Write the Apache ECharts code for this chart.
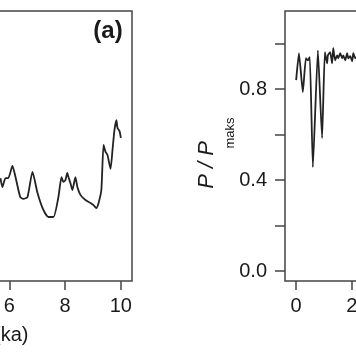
<!DOCTYPE html>
<html><head><meta charset="utf-8">
<script src="https://cdn.jsdelivr.net/npm/echarts@6/dist/echarts.min.js"></script>
<style>html,body{margin:0;padding:0;background:#fff}#c{width:356px;height:364px}</style>
</head><body><div id="c"></div>
<script>
// Panel (a): age (ka) and value (arbitrary units)
var ageA = [5.68,5.75,5.86,5.96,6.11,6.22,6.39,6.50,6.65,6.83,7.01,7.22,7.40,7.58,7.76,7.87,7.94,8.01,8.08,8.12,8.19,8.26,8.37,8.44,8.55,8.73,8.91,9.02,9.12,9.20,9.30,9.38,9.45,9.52,9.63,9.70,9.77,9.84,9.88,9.95,10.0];
var valA = [38.1,34.8,38.1,38.1,42.6,38.5,31.1,30.4,31.1,40.4,32.6,26.3,23.7,23.7,31.1,38.5,36.7,37.4,40.0,38.5,36.3,33.7,38.5,34.8,31.9,30.0,28.9,28.1,27.0,28.9,33.7,50.4,47.8,46.7,41.5,48.5,55.9,59.6,56.7,55.6,53.0];
// Panel (b): age (ka) and P/Pmaks
var ageB = [0.0,0.10,0.24,0.35,0.42,0.49,0.60,0.78,0.93,1.03,1.11,1.14,1.22,1.29,1.33,1.40,1.47,1.51,1.58,1.65,1.69,1.76,1.83,1.87,1.94,2.01,2.05,2.12,2.20];
var valB = [0.84,0.958,0.787,0.936,0.927,0.941,0.457,0.971,0.585,0.963,0.914,0.949,0.963,0.914,0.980,0.927,0.949,0.936,0.958,0.936,0.949,0.927,0.958,0.936,0.945,0.923,0.958,0.936,0.945];
// Tick values
var xTicks = [0,2,4,6,8,10];
var yTicksB = [0,0.2,0.4,0.6,0.8,1.0];
var yLabelsB = [0,0.4,0.8];
var xName = 'Waktu (ka)';
var panelLabel = '(a)';

var FONT = '"Liberation Sans", Arial, sans-serif';
var TXT = '#1a1a1a';
var BOX = '#444';

function pairs(xs, ys){ return xs.map(function(x,i){ return [x, ys[i]]; }); }

var chart = echarts.init(document.getElementById('c'), null, {renderer:'canvas'});
chart.setOption({
  animation:false,
  backgroundColor:'#fff',
  grid:[
    {left:-169, width:301, top:11, height:270, show:true, borderColor:BOX, borderWidth:1.5, backgroundColor:'transparent', containLabel:false, outerBoundsMode:'none'},
    {left:285, width:301, top:11, height:270, show:true, borderColor:BOX, borderWidth:1.5, backgroundColor:'transparent', containLabel:false, outerBoundsMode:'none'}
  ],
  xAxis:[
    {gridIndex:0, type:'value', min:-0.4, max:10.4, position:'bottom',
     axisLine:{show:false, onZero:false}, splitLine:{show:false},
     axisTick:{show:true, inside:false, length:9, lineStyle:{color:BOX, width:1.5}, customValues:xTicks},
     axisLabel:{show:true, margin:15, fontFamily:FONT, fontSize:20, color:TXT, customValues:xTicks}},
    {gridIndex:1, type:'value', min:-0.4, max:10.4, position:'bottom',
     axisLine:{show:false, onZero:false}, splitLine:{show:false},
     axisTick:{show:true, inside:false, length:9, lineStyle:{color:BOX, width:1.5}, customValues:xTicks},
     axisLabel:{show:true, margin:15, fontFamily:FONT, fontSize:20, color:TXT, customValues:xTicks}}
  ],
  yAxis:[
    {gridIndex:0, type:'value', min:0, max:100, show:false, axisLine:{onZero:false}},
    {gridIndex:1, type:'value', min:-0.044, max:1.144, position:'left',
     axisLine:{show:false, onZero:false}, splitLine:{show:false},
     axisTick:{show:true, inside:false, length:10, lineStyle:{color:BOX, width:1.5}, customValues:yTicksB},
     axisLabel:{show:true, margin:18, fontFamily:FONT, fontSize:20, color:TXT, customValues:yLabelsB,
       formatter:function(v){ return Number(v).toFixed(1); }}}
  ],
  series:[
    {type:'line', xAxisIndex:0, yAxisIndex:0, data:pairs(ageA, valA), showSymbol:false, smooth:0.2,
     lineStyle:{color:'#222', width:1.8}},
    {type:'line', xAxisIndex:1, yAxisIndex:1, data:pairs(ageB, valB), showSymbol:false, smooth:0.15,
     lineStyle:{color:'#222', width:1.8}}
  ],
  graphic:[
    {type:'text', x:108, y:31, style:{text:panelLabel, fontFamily:FONT, fontSize:24, fontWeight:'bold', fill:TXT, align:'center', verticalAlign:'middle'}},
    {type:'text', x:28.5, y:335, style:{text:xName, fontFamily:FONT, fontSize:20, fill:TXT, align:'right', verticalAlign:'middle'}},
    {type:'text', x:207, y:165, rotation:Math.PI/2, style:{text:'P / P', fontFamily:FONT, fontSize:22, fontStyle:'italic', fill:TXT, align:'center', verticalAlign:'middle'}},
    {type:'text', x:230, y:133, rotation:Math.PI/2, style:{text:'maks', fontFamily:FONT, fontSize:13, fill:TXT, align:'center', verticalAlign:'middle'}}
  ]
});
</script></body></html>
